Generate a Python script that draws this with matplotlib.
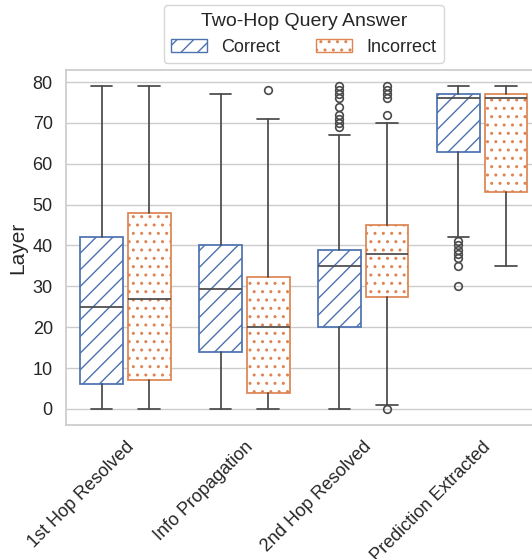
import matplotlib
matplotlib.use("Agg")
import matplotlib.pyplot as plt
import matplotlib.patches as mpatches
import seaborn as sns

sns.set_theme(style="whitegrid")
plt.rcParams['font.family'] = ['Liberation Sans', 'DejaVu Sans']
plt.rcParams['hatch.linewidth'] = 1.0

stages = ['1st Hop Resolved', 'Info Propagation', '2nd Hop Resolved', 'Prediction Extracted']
answers = ['Correct', 'Incorrect']

# box stats, one entry per stage
correct_q1 = [6, 14, 20, 63]
correct_med = [25, 29.4, 35, 76]
correct_q3 = [42, 40, 39, 77]
correct_lo = [0, 0, 0, 42]
correct_hi = [79, 77, 67, 79]
correct_fliers = [
    [],
    [],
    [79, 78, 77, 76, 74, 72, 71, 70, 69],
    [41, 40, 39, 38, 37, 35, 30],
]

incorrect_q1 = [7, 4, 27.3, 53]
incorrect_med = [27, 20, 38, 76]
incorrect_q3 = [48, 32.3, 45, 77]
incorrect_lo = [0, 0, 1, 35]
incorrect_hi = [79, 71, 70, 79]
incorrect_fliers = [
    [],
    [78],
    [79, 78, 77, 76, 72, 0],
    [],
]

blue = '#4c72b0'
orange = '#dd8452'
line_gray = '#4a4a4a'


def make_stats(q1, med, q3, lo, hi, fliers):
    stats = []
    for i in range(len(q1)):
        stats.append({'q1': q1[i], 'med': med[i], 'q3': q3[i],
                      'whislo': lo[i], 'whishi': hi[i], 'fliers': fliers[i]})
    return stats


fig = plt.figure(figsize=(5.32, 5.59), dpi=100)
ax = fig.add_axes([0.124, 0.2397, 0.894, 0.635])

box_w = 0.36
offset = 0.2
series = [
    (make_stats(correct_q1, correct_med, correct_q3, correct_lo, correct_hi, correct_fliers), -offset, blue, '//'),
    (make_stats(incorrect_q1, incorrect_med, incorrect_q3, incorrect_lo, incorrect_hi, incorrect_fliers), offset, orange, '..'),
]
for stats, off, color, hatch in series:
    pos = [i + off for i in range(len(stages))]
    ax.bxp(stats, positions=pos, widths=box_w, patch_artist=True,
           capwidths=box_w / 2,
           boxprops={'facecolor': 'white', 'edgecolor': color, 'linewidth': 1.25, 'hatch': hatch},
           medianprops={'color': line_gray, 'linewidth': 1.25},
           whiskerprops={'color': line_gray, 'linewidth': 1.25},
           capprops={'color': line_gray, 'linewidth': 1.25},
           flierprops={'marker': 'o', 'markerfacecolor': 'none', 'markeredgecolor': line_gray,
                       'markersize': 5.5, 'markeredgewidth': 1.2},
           manage_ticks=False)

ax.set_xlim(-0.5, len(stages) - 0.5)
ax.set_ylim(-3.95, 82.95)
ax.set_yticks(range(0, 81, 10))
ax.set_xticks(range(len(stages)))
ax.set_xticklabels(stages, rotation=45, ha='right', rotation_mode='anchor', fontsize=13)
ax.tick_params(axis='y', labelsize=13)
ax.set_ylabel('Layer', fontsize=15)
ax.xaxis.grid(False)

handles = [
    mpatches.Patch(facecolor='white', edgecolor=blue, hatch='//', label=answers[0]),
    mpatches.Patch(facecolor='white', edgecolor=orange, hatch='..', label=answers[1]),
]
ax.legend(handles=handles, title='Two-Hop Query Answer', loc='lower center',
          bbox_to_anchor=(0.5, 0.995), ncol=2, fontsize=13, title_fontsize=14)

fig.savefig('out.png', dpi=100)
